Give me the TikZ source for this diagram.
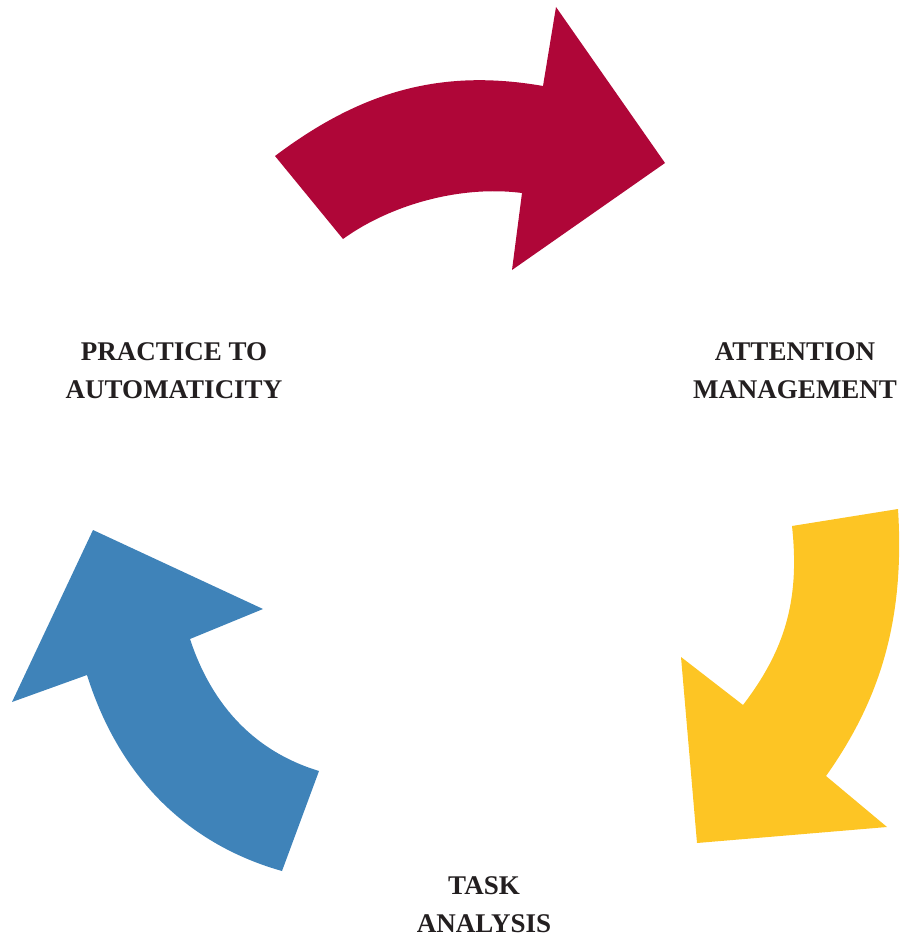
\documentclass[tikz,border=0pt]{standalone}
\usepackage{xcolor}
\usepackage{fontspec}
\setmainfont{Liberation Serif}

\definecolor{arrowred}{RGB}{175,6,56}
\definecolor{arrowyellow}{RGB}{253,197,36}
\definecolor{arrowblue}{RGB}{63,131,185}

\tikzset{
  cyclabel/.style={anchor=base, inner sep=0.75pt, align=center,
    font=\fontsize{20.25}{28.5}\selectfont\bfseries, text={rgb,255:red,35;green,31;blue,32}}
}

\begin{document}
\begin{tikzpicture}[x=0.75pt,y=0.75pt,yscale=-1,xscale=1]
\path (0,0) rectangle (903,938); %set diagram size to the page

%Shape: Curved Arrow [id:red]
\fill [arrowred] (275,156) .. controls (360,92) and (440,68) .. (543,86) -- (556,7) -- (665,163) -- (512,270) -- (522,193) .. controls (460,185) and (390,205) .. (343,239) -- cycle ;
%Shape: Curved Arrow [id:yellow]
\fill [arrowyellow] (898,509) -- (792,526) .. controls (800,600) and (785,650) .. (743,705) -- (681,657) -- (697,843) -- (887,827) -- (826,776) .. controls (880,700) and (905,620) .. (898,509) -- cycle ;
%Shape: Curved Arrow [id:blue]
\fill [arrowblue] (93,530) -- (263,609) -- (190,639) .. controls (210,700) and (250,750) .. (319,771) -- (282,871) .. controls (190,845) and (120,780) .. (87,675) -- (12,702) -- cycle ;

% Text Node
\node [cyclabel] (practice) at (174,398) {PRACTICE TO\\AUTOMATICITY};
% Text Node
\node [cyclabel] (attention) at (795,398) {ATTENTION\\MANAGEMENT};
% Text Node
\node [cyclabel] (task) at (484,932) {TASK\\ANALYSIS};

\end{tikzpicture}
\end{document}
